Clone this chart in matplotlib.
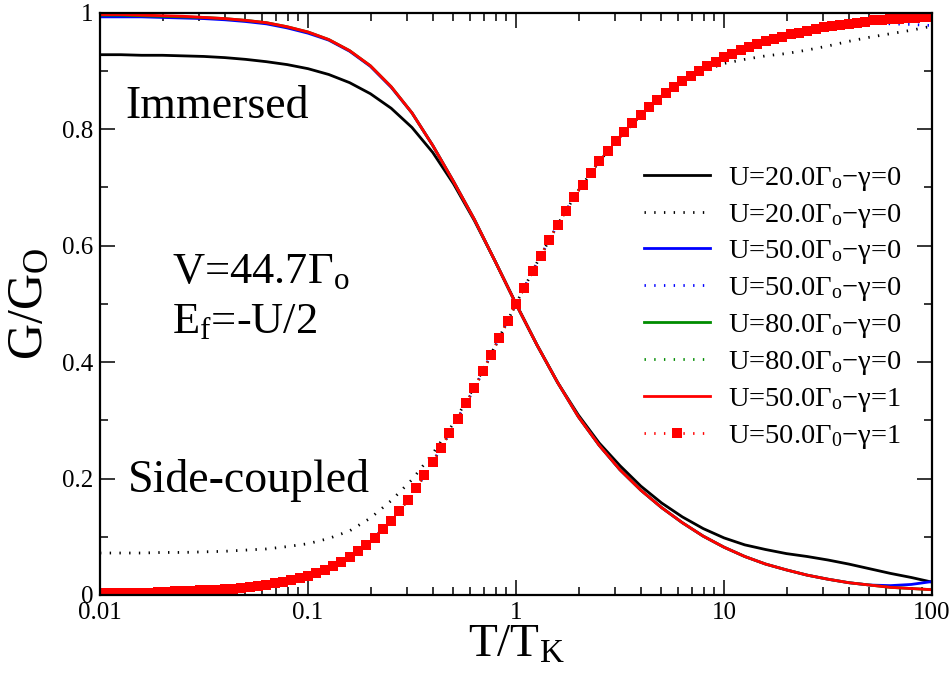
import numpy as np
import matplotlib
matplotlib.use("Agg")
import matplotlib.pyplot as plt
from matplotlib.ticker import FixedLocator, MultipleLocator, LogLocator, NullFormatter

plt.rcParams['font.family'] = ['Liberation Serif', 'DejaVu Serif']
plt.rcParams['mathtext.fontset'] = 'custom'
plt.rcParams['mathtext.rm'] = 'Liberation Serif'
plt.rcParams['mathtext.it'] = 'Liberation Serif:italic'

# T/T_K sample grids (10 and 25 points per decade)
t_grid = np.logspace(-2, 2, 41)
t_dense = np.logspace(-2, 2, 101)

# immersed dot (solid lines)
g_imm_u20 = [0.928, 0.928, 0.927, 0.927, 0.926, 0.925, 0.923, 0.920, 0.916, 0.911,
             0.904, 0.894, 0.880, 0.861, 0.836, 0.803, 0.760, 0.706, 0.643, 0.573,
             0.500, 0.430, 0.365, 0.309, 0.261, 0.222, 0.187, 0.158, 0.134, 0.114,
             0.098, 0.086, 0.078, 0.071, 0.066, 0.060, 0.053, 0.045, 0.037, 0.030,
             0.022]
g_imm_u50 = [0.993, 0.993, 0.993, 0.992, 0.991, 0.990, 0.988, 0.985, 0.981, 0.974,
             0.965, 0.953, 0.934, 0.908, 0.872, 0.828, 0.772, 0.710, 0.645, 0.573,
             0.500, 0.430, 0.365, 0.306, 0.257, 0.215, 0.180, 0.150, 0.124, 0.101,
             0.082, 0.066, 0.053, 0.043, 0.034, 0.027, 0.021, 0.017, 0.016, 0.018,
             0.023]
g_imm_u80 = [0.996, 0.996, 0.995, 0.994, 0.993, 0.992, 0.990, 0.987, 0.983, 0.976,
             0.967, 0.954, 0.935, 0.909, 0.873, 0.828, 0.772, 0.710, 0.645, 0.573,
             0.500, 0.430, 0.365, 0.306, 0.257, 0.215, 0.180, 0.150, 0.124, 0.101,
             0.082, 0.066, 0.053, 0.043, 0.034, 0.027, 0.021, 0.017, 0.013, 0.011,
             0.009]
g_imm_u50_g1 = [0.997, 0.997, 0.996, 0.995, 0.994, 0.992, 0.990, 0.987, 0.983, 0.976,
                0.967, 0.954, 0.935, 0.909, 0.873, 0.828, 0.772, 0.710, 0.645, 0.573,
                0.500, 0.430, 0.365, 0.306, 0.257, 0.215, 0.180, 0.150, 0.124, 0.101,
                0.082, 0.066, 0.053, 0.043, 0.034, 0.027, 0.021, 0.017, 0.013, 0.011,
                0.009]

# side-coupled dot (dotted lines)
g_side_u20 = [0.072, 0.072, 0.072, 0.073, 0.073, 0.074, 0.075, 0.077, 0.079, 0.083,
              0.088, 0.097, 0.110, 0.132, 0.162, 0.198, 0.243, 0.295, 0.358, 0.428,
              0.500, 0.570, 0.636, 0.695, 0.745, 0.786, 0.824, 0.856, 0.880, 0.900,
              0.913, 0.920, 0.926, 0.930, 0.936, 0.943, 0.951, 0.958, 0.964, 0.970,
              0.977]
g_side_u50 = [0.007, 0.007, 0.007, 0.008, 0.009, 0.010, 0.012, 0.015, 0.019, 0.026,
              0.035, 0.047, 0.066, 0.092, 0.128, 0.172, 0.228, 0.290, 0.355, 0.427,
              0.500, 0.570, 0.636, 0.695, 0.745, 0.787, 0.825, 0.857, 0.882, 0.905,
              0.924, 0.940, 0.951, 0.961, 0.969, 0.976, 0.980, 0.983, 0.981, 0.980,
              0.978]
g_side_u80 = [0.004, 0.004, 0.005, 0.006, 0.007, 0.008, 0.010, 0.013, 0.017, 0.024,
              0.033, 0.046, 0.065, 0.091, 0.127, 0.172, 0.228, 0.290, 0.355, 0.427,
              0.500, 0.570, 0.636, 0.695, 0.745, 0.787, 0.825, 0.857, 0.882, 0.905,
              0.924, 0.940, 0.951, 0.961, 0.969, 0.976, 0.981, 0.986, 0.989, 0.991,
              0.993]
g_side_u50_g1 = [0.003, 0.003, 0.003, 0.003, 0.004, 0.004, 0.004, 0.005, 0.005, 0.006,
                 0.006, 0.007, 0.008, 0.008, 0.009, 0.010, 0.011, 0.012, 0.014, 0.015,
                 0.017, 0.020, 0.023, 0.026, 0.029, 0.033, 0.038, 0.043, 0.050, 0.057,
                 0.065, 0.075, 0.086, 0.098, 0.113, 0.127, 0.145, 0.163, 0.183, 0.206,
                 0.228, 0.253, 0.278, 0.303, 0.329, 0.355, 0.384, 0.413, 0.442, 0.471,
                 0.500, 0.528, 0.556, 0.583, 0.610, 0.636, 0.660, 0.683, 0.705, 0.725,
                 0.745, 0.762, 0.779, 0.795, 0.810, 0.825, 0.838, 0.851, 0.862, 0.872,
                 0.882, 0.891, 0.900, 0.909, 0.916, 0.924, 0.930, 0.936, 0.942, 0.947,
                 0.951, 0.955, 0.959, 0.963, 0.966, 0.969, 0.972, 0.975, 0.977, 0.979,
                 0.981, 0.983, 0.985, 0.987, 0.988, 0.989, 0.990, 0.991, 0.991, 0.992,
                 0.993]

labels = [
    'U=20.0Γ$_{\\rm o}$−γ=0', 'U=20.0Γ$_{\\rm o}$−γ=0',
    'U=50.0Γ$_{\\rm o}$−γ=0', 'U=50.0Γ$_{\\rm o}$−γ=0',
    'U=80.0Γ$_{\\rm o}$−γ=0', 'U=80.0Γ$_{\\rm o}$−γ=0',
    'U=50.0Γ$_{\\rm o}$−γ=1', 'U=50.0Γ$_{\\rm 0}$−γ=1',
]

fig = plt.figure(figsize=(9.52, 6.73), dpi=100)
ax = fig.add_axes([0.105, 0.116, 0.874, 0.865])

lw = 2.0
dots = (0, (0.5, 3))
ax.plot(t_grid, g_imm_u20, color='black', lw=lw, label=labels[0])
ax.plot(t_grid, g_side_u20, color='black', lw=lw, ls=dots, label=labels[1])
ax.plot(t_grid, g_imm_u50, color='#0000ff', lw=lw, label=labels[2])
ax.plot(t_grid, g_side_u50, color='#0000ff', lw=lw, ls=dots, label=labels[3])
ax.plot(t_grid, g_imm_u80, color='#008c00', lw=lw, label=labels[4])
ax.plot(t_grid, g_side_u80, color='#008c00', lw=lw, ls=dots, label=labels[5])
ax.plot(t_grid, g_imm_u50_g1, color='#ff0000', lw=lw, label=labels[6])
ax.plot(t_dense, g_side_u50_g1, color='#ff0000', lw=lw, ls=dots,
        marker='s', markersize=6.5, markeredgewidth=0, label=labels[7])

ax.set_xscale('log')
ax.set_xlim(0.01, 100)
ax.set_ylim(0, 1)

ax.xaxis.set_major_locator(FixedLocator([0.01, 0.1, 1, 10, 100]))
ax.set_xticklabels(['0.01', '0.1', '1', '10', '100'])
ax.xaxis.set_minor_locator(LogLocator(base=10, subs=np.arange(2, 10)))
ax.xaxis.set_minor_formatter(NullFormatter())
ax.yaxis.set_major_locator(FixedLocator([0, 0.2, 0.4, 0.6, 0.8, 1.0]))
ax.set_yticklabels(['0', '0.2', '0.4', '0.6', '0.8', '1'])
ax.yaxis.set_minor_locator(MultipleLocator(0.1))

ax.tick_params(which='both', direction='in', top=True, right=True, labelsize=18)
ax.tick_params(which='major', length=11, width=1.1, pad=5)
ax.tick_params(which='minor', length=6, width=1.1)
for sp in ax.spines.values():
    sp.set_linewidth(1.6)

ax.set_xlabel('T/T$_{\\rm K}$', fontsize=34, labelpad=0)
ax.set_ylabel('G/G$_{\\rm O}$', fontsize=36, labelpad=6)

ax.text(0.030, 0.82, 'Immersed', transform=ax.transAxes, fontsize=33)
ax.text(0.034, 0.177, 'Side-coupled', transform=ax.transAxes, fontsize=33)
ax.text(0.087, 0.536, 'V=44.7Γ$_{\\rm o}$', transform=ax.transAxes, fontsize=32)
ax.text(0.087, 0.45, 'E$_{\\rm f}$=-U/2', transform=ax.transAxes, fontsize=32)

ax.legend(loc='upper left', bbox_to_anchor=(0.654, 0.739), frameon=False,
          fontsize=20.5, handlelength=2.3, handletextpad=0.63, labelspacing=0.31,
          borderpad=0, borderaxespad=0)

fig.savefig('out.png', dpi=100)
